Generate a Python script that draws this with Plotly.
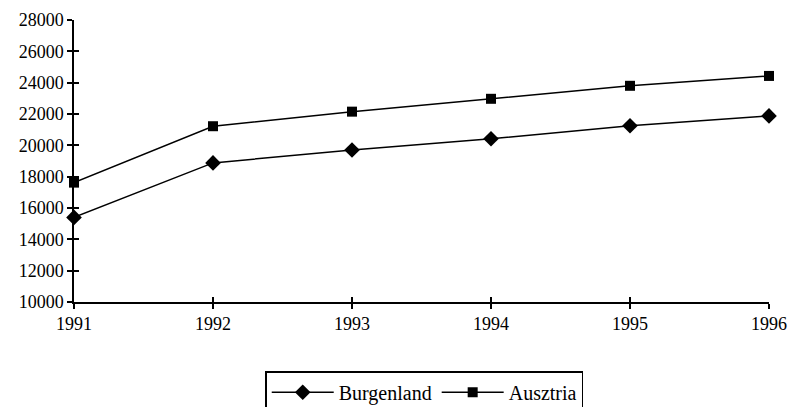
import plotly.graph_objects as go

years = [1991, 1992, 1993, 1994, 1995, 1996]
burgenland = [15400, 18880, 19700, 20420, 21250, 21880]
ausztria = [17620, 21220, 22150, 22970, 23800, 24430]
y_ticks = [10000, 12000, 14000, 16000, 18000, 20000, 22000, 24000, 26000, 28000]
y_tick_labels = [str(v) for v in y_ticks]

FONT = "Liberation Serif, Times New Roman, serif"
fig = go.Figure()
fig.add_trace(go.Scatter(x=years, y=burgenland, name="Burgenland", mode="lines+markers",
                         line=dict(color="black", width=1.5),
                         marker=dict(symbol="diamond", size=12, color="black"),
                         cliponaxis=False))
fig.add_trace(go.Scatter(x=years, y=ausztria, name="Ausztria", mode="lines+markers",
                         line=dict(color="black", width=1.5),
                         marker=dict(symbol="square", size=10, color="black"),
                         cliponaxis=False))

axis_common = dict(showgrid=False, zeroline=False, linecolor="black", linewidth=1.5,
                   tickcolor="black", tickwidth=1.5, ticklen=5, automargin=False)
fig.update_layout(
    width=790, height=407,
    margin=dict(l=74, r=21, t=20, b=105),
    paper_bgcolor="white", plot_bgcolor="white",
    font=dict(family=FONT, size=18, color="black"),
    xaxis=dict(range=[1991, 1996], tickvals=years, ticks="outside", showline=True,
               tickfont=dict(family=FONT, size=18), **axis_common),
    yaxis=dict(range=[10000, 28000], tickvals=y_ticks, ticktext=y_tick_labels,
               ticks="outside", showline=True,
               tickfont=dict(family=FONT, size=18), **axis_common),
    xaxis2=dict(range=[1991, 1996], tickvals=years, ticks="inside", overlaying="x",
                showticklabels=False, showline=False, **axis_common),
    yaxis2=dict(range=[10000, 28000], tickvals=y_ticks, ticks="inside", overlaying="y",
                showticklabels=False, showline=False, **axis_common),
    showlegend=True,
    legend=dict(orientation="h", x=0.537, xref="container", xanchor="center",
                y=0.088, yref="container", yanchor="top",
                bordercolor="black", borderwidth=1.5, bgcolor="white",
                font=dict(family=FONT, size=20), itemwidth=62, tracegroupgap=0),
)
fig.add_trace(go.Scatter(x=[1991], y=[10000], xaxis="x2", yaxis="y2", mode="markers",
                         marker=dict(opacity=0), showlegend=False, hoverinfo="skip"))
fig.write_html("out.html", config={"displayModeBar": False},
               post_script="document.body.style.margin='0';document.body.style.overflow='hidden';")
